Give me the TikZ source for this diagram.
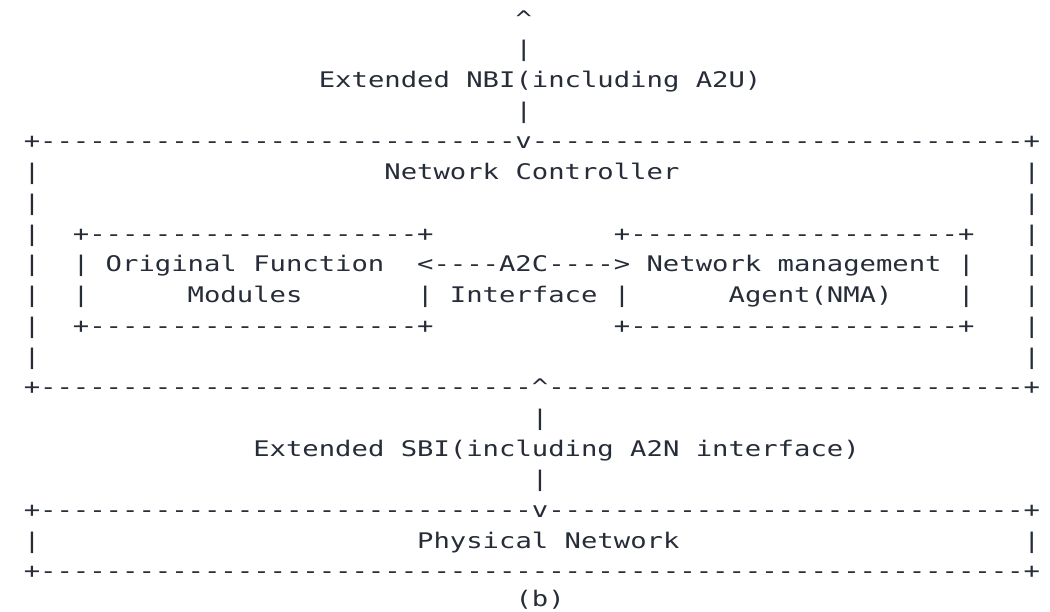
\documentclass[tikz,border=0pt]{standalone}
\usepackage{fontspec}
\usepackage{graphicx}
\setmonofont{DejaVu Sans Mono}
\ExplSyntaxOn
\cs_new:Npn \rpt #1#2 { \prg_replicate:nn {#1} {#2} }
\ExplSyntaxOff
\definecolor{ink}{RGB}{38,44,56}
\tikzset{
  ascii/.style={anchor=base west, inner sep=0pt, outer sep=0pt, text=ink,
    font=\fontsize{21.5}{25}\selectfont\ttfamily},
}
\newcommand\wide[1]{\scalebox{1.2663}[1]{#1}}
\begin{document}
\begin{tikzpicture}[x=1pt,y=1pt]
\useasboundingbox (0,0) rectangle (1050,-611);
\def\xo{23.8}
\node[ascii] (l0)  at (\xo,-26.00)  {\wide{\rpt{30}{~}\textasciicircum}};
\node[ascii] (l1)  at (\xo,-56.73)  {\wide{\rpt{30}{~}|}};
\node[ascii] (l2)  at (\xo,-87.46)  {\wide{\rpt{18}{~}Extended~NBI(including~A2U)}};
\node[ascii] (l3)  at (\xo,-118.19) {\wide{\rpt{30}{~}|}};
\node[ascii] (l4)  at (\xo,-148.92) {\wide{+\rpt{29}{-}v\rpt{30}{-}+}};
\node[ascii] (l5)  at (\xo,-179.65) {\wide{|\rpt{21}{~}Network~Controller\rpt{21}{~}|}};
\node[ascii] (l6)  at (\xo,-210.38) {\wide{|\rpt{60}{~}|}};
\node[ascii] (l7)  at (\xo,-241.11) {\wide{|~~+\rpt{20}{-}+\rpt{11}{~}+\rpt{20}{-}+~~~|}};
\node[ascii] (l8)  at (\xo,-271.84) {\wide{|~~|~Original~Function~~<----A2C---->~Network~management~|~~~|}};
\node[ascii] (l9)  at (\xo,-302.57) {\wide{|~~|\rpt{6}{~}Modules\rpt{7}{~}|~Interface~|\rpt{6}{~}Agent(NMA)\rpt{4}{~}|~~~|}};
\node[ascii] (l10) at (\xo,-333.30) {\wide{|~~+\rpt{20}{-}+\rpt{11}{~}+\rpt{20}{-}+~~~|}};
\node[ascii] (l11) at (\xo,-364.03) {\wide{|\rpt{60}{~}|}};
\node[ascii] (l12) at (\xo,-394.76) {\wide{+\rpt{30}{-}\textasciicircum\rpt{29}{-}+}};
\node[ascii] (l13) at (\xo,-425.49) {\wide{\rpt{31}{~}|}};
\node[ascii] (l14) at (\xo,-456.22) {\wide{\rpt{14}{~}Extended~SBI(including~A2N~interface)}};
\node[ascii] (l15) at (\xo,-486.95) {\wide{\rpt{31}{~}|}};
\node[ascii] (l16) at (\xo,-517.68) {\wide{+\rpt{30}{-}v\rpt{29}{-}+}};
\node[ascii] (l17) at (\xo,-548.41) {\wide{|\rpt{23}{~}Physical~Network\rpt{21}{~}|}};
\node[ascii] (l18) at (\xo,-578.60) {\wide{+\rpt{60}{-}+}};
\node[ascii] (l19) at (\xo,-606.80) {\wide{\rpt{30}{~}(b)}};
\end{tikzpicture}
\end{document}
